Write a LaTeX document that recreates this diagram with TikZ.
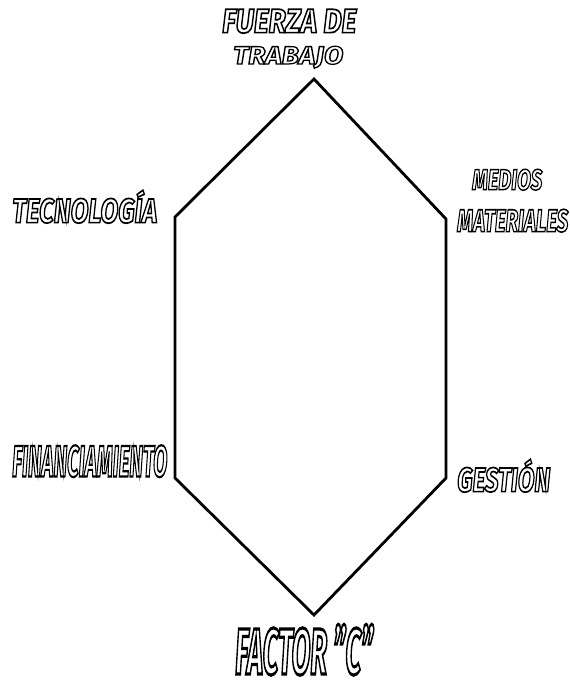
\documentclass[tikz,border=0pt]{standalone}
\usepackage{fontspec}
\setmainfont{Fira Sans}
\usepackage{graphicx}
\usetikzlibrary{positioning}
% hollow lettering: stroke the glyphs only
\newcommand{\hollow}[1]{\special{pdf:code q 1 Tr 0.5 w}#1\special{pdf:code Q}}
\tikzset{
  side/.style={line width=2.8pt, line join=miter},
  tag/.style={inner sep=0pt, anchor=north west, font=\bfseries\itshape},
}

\begin{document}
\begin{tikzpicture}[x=1pt,y=-1pt]
  \useasboundingbox (0,0) rectangle (570,688);
  % corners of the hexagon
  \coordinate (top) at (314,79);
  \coordinate (ur) at (446,219);
  \coordinate (lr) at (446,478);
  \coordinate (bot) at (314,615);
  \coordinate (ll) at (175,478);
  \coordinate (ul) at (175,217);
  \draw[side] (top) -- (ur) -- (lr) -- (bot) -- (ll) -- (ul) -- cycle;
  % factors
  \node[tag] (fuerza) at (222,9) {\resizebox*{134pt}{24pt}{\hollow{FUERZA DE}}};
  \node[tag] (trabajo) at (233,46) {\resizebox*{110pt}{22pt}{\hollow{TRABAJO}}};
  \node[tag] (tecno) at (12,190) {\resizebox*{145pt}{33pt}{\hollow{TECNOLOGÍA}}};
  \node[tag] (medios) at (472,169) {\resizebox*{70pt}{21pt}{\hollow{MEDIOS}}};
  \node[tag] (materiales) at (457,209) {\resizebox*{111pt}{23pt}{\hollow{MATERIALES}}};
  \node[tag] (financ) at (12,445) {\resizebox*{155pt}{32pt}{\hollow{FINANCIAMIENTO}}};
  \node[tag] (gestion) at (457,459) {\resizebox*{93pt}{33pt}{\hollow{GESTIÓN}}};
  \node[tag] (factor) at (235,624) {\resizebox*{138pt}{51pt}{\hollow{FACTOR "C"}}};
\end{tikzpicture}
\end{document}
